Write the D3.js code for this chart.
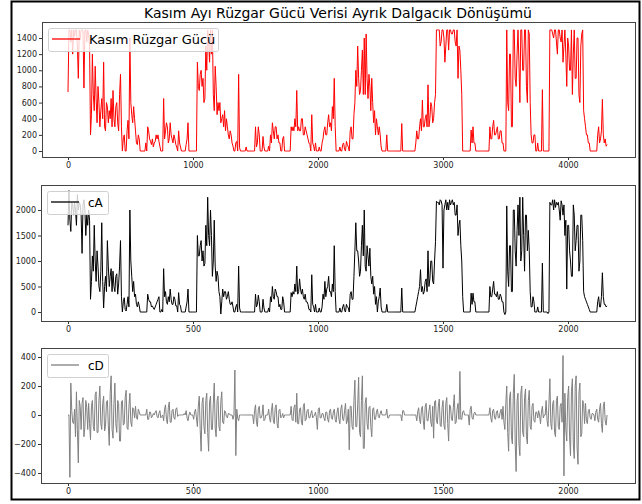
<!DOCTYPE html>
<html>
<head>
<meta charset="utf-8">
<script src="https://cdn.jsdelivr.net/npm/d3@7/dist/d3.min.js"></script>
<style>
body { margin: 0; background: #fff; }
svg text { font-family: "DejaVu Sans", sans-serif; }
</style>
</head>
<body>
<svg id="chart" width="642" height="504"></svg>
<script>
// values (signal: 4320 samples, coefficients: 2160 samples)
const titleText = "Kasım Ayı Rüzgar Gücü Verisi Ayrık Dalgacık Dönüşümü";
const seriesNames = ["Kasım Rüzgar Gücü", "cA", "cD"];

const powerTicksY = [0, 200, 400, 600, 800, 1000, 1200, 1400];
const powerTicksX = [0, 1000, 2000, 3000, 4000];
const cATicksY = [0, 500, 1000, 1500, 2000];
const cDTicksY = [-400, -200, 0, 200, 400];
const coefTicksX = [0, 500, 1000, 1500, 2000];

const powerSpan = 4320;
const coefSpan = 2160;

const windPower = [
  730, 1500, 1500, 1350, 1500, 1200, 1500, 1420, 1500, 1500, 1300, 900, 1500, 1380, 1500, 1500, 1480, 780, 1500, 1500, 1350, 1500, 1450, 1300,
  200, 450, 1200, 700, 500, 1050, 650, 350, 800, 600, 300, 500, 650, 400, 1100, 300, 250, 600, 550, 350, 500, 400, 650, 300,
  750, 400, 300, 550, 600, 350, 250, 700, 950, 300, 0, 150, 200, 0, 0, 250, 380, 150, 1400, 600, 450, 350, 550, 400,
  250, 100, 80, 200, 150, 0, 0, 0, 0, 0, 0, 100, 0, 300, 250, 150, 120, 80, 150, 50, 100, 120, 200, 150,
  200, 120, 60, 0, 0, 0, 650, 150, 250, 350, 300, 100, 150, 350, 200, 150, 100, 200, 150, 80, 50, 0, 250, 100,
  50, 0, 0, 0, 0, 0, 80, 150, 350, 0, 0, 0, 0, 0, 0, 0, 0, 0, 1100, 800, 750, 950, 1000, 800,
  900, 600, 650, 1300, 1000, 1500, 1350, 1100, 1500, 1200, 1500, 700, 500, 1050, 800, 450, 600, 500, 600, 350, 400, 450, 300, 500,
  250, 400, 300, 200, 150, 250, 200, 100, 60, 0, 0, 100, 120, 0, 950, 40, 0, 0, 0, 0, 0, 0, 50, 0,
  0, 0, 0, 0, 0, 0, 0, 0, 300, 50, 100, 300, 200, 0, 0, 0, 180, 50, 0, 0, 0, 0, 60, 0,
  200, 100, 350, 250, 150, 300, 300, 150, 200, 100, 100, 0, 0, 150, 180, 0, 0, 0, 0, 0, 0, 0, 300, 250,
  300, 250, 400, 300, 750, 250, 300, 250, 250, 400, 400, 200, 200, 300, 250, 200, 150, 100, 80, 0, 450, 100, 60, 0,
  100, 0, 0, 0, 50, 0, 0, 100, 150, 250, 300, 200, 200, 350, 450, 300, 350, 250, 550, 400, 900, 300, 0, 0,
  0, 0, 50, 0, 0, 80, 100, 20, 0, 120, 80, 50, 0, 250, 300, 150, 150, 450, 600, 1000, 800, 1300, 900, 700,
  750, 1000, 1250, 700, 1400, 700, 1450, 900, 650, 950, 800, 500, 900, 600, 350, 500, 200, 400, 300, 200, 300, 200, 50, 0,
  0, 0, 0, 0, 200, 0, 0, 0, 0, 0, 0, 0, 0, 0, 0, 0, 0, 0, 0, 0, 340, 0, 0, 0,
  0, 0, 0, 0, 0, 0, 0, 0, 0, 0, 0, 100, 250, 150, 150, 300, 400, 250, 630, 300, 300, 400, 450, 300,
  820, 300, 400, 600, 550, 350, 400, 600, 700, 1500, 1500, 1500, 1500, 1300, 1350, 1500, 1500, 1400, 1100, 1300, 1500, 1500, 1250, 1500,
  1500, 1450, 1450, 1500, 1500, 1350, 1300, 1500, 900, 1300, 1250, 1000, 700, 0, 0, 0, 0, 0, 0, 0, 0, 0, 260, 100,
  300, 100, 100, 0, 0, 0, 0, 0, 0, 0, 0, 0, 0, 0, 0, 0, 0, 0, 300, 150, 150, 300, 380, 200,
  200, 250, 300, 150, 150, 250, 250, 100, 100, 0, 0, 0, 1500, 600, 500, 1200, 1200, 300, 300, 1500, 1500, 900, 800, 1200,
  1500, 1100, 600, 1500, 1500, 1000, 1000, 1500, 1500, 800, 600, 1500, 1450, 600, 200, 100, 100, 200, 200, 0, 0, 100, 0, 0,
  0, 0, 760, 0, 0, 0, 0, 0, 0, 0, 1500, 1500, 1500, 1450, 1400, 1500, 1500, 1350, 1200, 1500, 1500, 1400, 1350, 1500,
  1100, 1300, 1500, 1200, 800, 1400, 1300, 1000, 1000, 1500, 700, 1200, 1500, 900, 900, 1400, 1400, 700, 600, 1300, 1450, 1500, 500, 400,
  300, 200, 200, 100, 100, 0, 0, 0, 0, 0, 0, 0, 0, 200, 300, 100, 150, 250, 640, 200, 100, 150, 60, 80
];

const cA = [
  1700, 2380, 1800, 1580, 2150, 2100, 1900, 2150, 2000, 1700, 2300, 2000, 2150, 2100, 1900, 1150, 2100, 2200, 2000, 1500, 1900, 1700, 2000, 1800,
  250, 600, 1100, 800, 1700, 1000, 600, 1200, 900, 500, 400, 800, 1750, 600, 80, 500, 700, 400, 1400, 900, 500, 700, 850, 400,
  800, 500, 400, 700, 750, 350, 550, 900, 1400, 300, 0, 200, 280, 50, 20, 150, 300, 100, 2000, 1000, 700, 400, 600, 300,
  350, 150, 100, 200, 120, 0, 0, 0, 0, 0, 0, 0, 0, 350, 250, 200, 200, 100, 120, 80, 50, 100, 150, 200,
  250, 300, 0, 0, 50, 0, 850, 300, 400, 200, 150, 300, 200, 450, 250, 150, 150, 300, 250, 120, 120, 0, 380, 150,
  120, 0, 0, 0, 0, 0, 100, 200, 450, 0, 0, 0, 0, 0, 0, 0, 0, 0, 1500, 1100, 1100, 1300, 1400, 1000,
  1200, 900, 950, 1700, 1300, 2250, 1500, 1300, 2000, 1500, 700, 1000, 1800, 900, 600, 800, 700, 400, 300, -40, 200, 450, 300, 400,
  400, 250, 300, 400, 250, 150, 150, 200, 100, 0, 0, 100, 150, 0, 900, 80, 0, 0, 0, 0, 0, 0, 0, 0,
  0, 0, 0, 0, 0, 0, 0, 0, 350, 100, 150, 330, 200, 0, 0, 0, 250, 80, 0, 0, 0, 0, 80, 0,
  300, 200, 500, 300, 250, 450, 400, 300, 300, 100, 150, 50, 50, 300, 200, 0, 0, 0, 0, 0, 0, 0, 380, 300,
  400, 350, 550, 400, 900, 350, 400, 650, 450, 350, 450, 300, 250, 350, 200, 200, 150, 50, 50, 0, 730, 150, 100, 0,
  150, 0, 0, 0, 80, 0, 0, 100, 350, 250, 600, 300, 450, 500, 700, 400, 400, 300, 550, 400, 1300, 400, 0, 0,
  0, 0, 80, 0, 0, 100, 150, 30, 0, 150, 100, 80, 0, 350, 400, 250, 250, 700, 1200, 1750, 1200, 1200, 1000, 700,
  800, 1300, 1700, 1100, 2000, 900, 800, 1300, 1100, 900, 1250, 700, 550, 700, 350, 500, 150, 300, 0, 200, 300, 470, 100, 0,
  0, 0, 0, 0, 150, 0, 0, 0, 0, 0, 0, 0, 0, 0, 0, 0, 0, 0, 0, 0, 470, 0, 0, 0,
  0, 0, 0, 0, 0, 0, 0, 0, 0, 0, 0, 100, 200, 300, 400, 500, 830, 400, 500, 350, 400, 600, 650, 400,
  1200, 500, 650, 1000, 1000, 600, 550, 1000, 1380, 2170, 2150, 2150, 2100, 2200, 2180, 2100, 860, 2000, 2100, 2200, 2000, 2150, 2000, 2200,
  2100, 2150, 2200, 2100, 2150, 1900, 1900, 2100, 1500, 1700, 1800, 1300, 1000, 300, 0, 0, 0, 0, 0, 0, 0, 0, 370, 150,
  370, 200, 200, 0, 0, 0, 0, 0, 0, 0, 0, 0, 0, 0, 0, 0, 0, 0, 500, 300, 300, 450, 600, 350,
  350, 300, 400, 250, 250, 350, 300, 200, 200, 0, -50, 0, 2080, 800, 500, 1300, 1300, 400, 400, 2000, 2000, 1200, 900, 1600,
  2100, 1500, 2250, 1000, 1200, 2250, 1500, 800, 1900, 1900, 1200, 1600, 1200, 400, 100, 100, 300, 200, 0, 0, 0, 100, 0, 0,
  0, 0, 960, 0, 0, 0, 0, 0, -30, 0, 2150, 2100, 2100, 2200, 2000, 2200, 2050, 2150, 2100, 2150, 2000, 1800, 2180, 2100,
  1900, 2100, 1500, 1800, 450, 1700, 1700, 1200, 1000, 700, 700, 2100, 1900, 1200, 1400, 1700, 1700, 800, 1000, 1900, 1900, 1400, 400, 300,
  250, 200, 150, 100, 50, 0, 0, 0, 0, 0, 0, 0, 0, 200, 300, 100, 100, 300, 770, 300, 150, 150, 100, 120
];

const cD = [
  0, 0, -430, 220, 30, -50, -60, 40, -150, 160, -100, -330, 100, 60, -100, 80, 120, -150, -80, 100, 50, -100, 80, -60,
  -170, 60, 100, -80, -110, 140, 160, -120, -120, 100, 200, -60, -100, 80, 130, -110, -80, 90, 100, -70, -210, 150, 270, -100,
  -160, 80, 220, -60, -120, 100, 80, -180, -180, 90, 100, -70, -60, 120, 170, -90, -100, 60, 150, -50, -80, 50, 40, -20,
  60, -20, -30, 40, 20, 0, 0, 0, 0, 0, 0, 0, 40, -30, -30, 20, 20, -20, -10, 10, 0, 20, 30, -10,
  -20, 10, 30, -20, -10, 0, -40, 40, 70, -30, -60, 50, 90, -50, -50, 30, 40, -20, -30, 40, 50, -10, 0, 0,
  0, 0, 0, 0, 10, 0, 30, -20, -40, 0, 20, 0, 0, 0, -30, 20, 40, -20, -80, 60, 130, -100, -250, 80,
  120, -80, -130, 100, 150, -120, -250, 90, 130, -100, -100, 80, 220, -90, -150, 100, 130, -80, -110, 90, 160, -50, -60, 30,
  20, -10, -20, 10, 10, 0, 0, 0, -30, 0, 310, -280, 40, -20, -40, 0, 0, 0, 0, 0, 0, 0, 0, 0,
  0, 0, 0, 0, 0, 0, -60, 30, 70, -50, -80, 40, 60, -20, -20, 0, 70, -40, -30, 0, 0, 0, 40, -20,
  -50, 30, 80, -40, -60, 50, 70, -60, -90, 30, 40, -20, -10, 10, -20, 0, 0, 0, 0, 0, 0, 0, 60, -30,
  -40, 50, 70, -50, 150, -60, -60, 40, 50, -50, -70, 60, 80, -40, -30, 30, 40, -20, -20, 10, 30, -20, -10, 0,
  20, -20, -100, 40, 50, -20, -20, 10, 10, -20, -40, 20, 20, -30, -50, 30, 40, -20, -30, 20, 40, -30, -50, 20,
  50, -30, -60, 40, 70, -30, -40, 30, 80, -60, -40, 40, -240, 60, 60, -80, -100, 100, 240, -80, -80, 70, 260, -120,
  -150, 100, 270, -230, -230, 80, 120, -60, -100, 50, 60, -80, -150, 40, 50, -30, -30, 20, 40, -10, -20, 10, 30, 0,
  0, 0, 0, 0, 40, -20, -20, 0, 0, 0, 0, 0, 0, 0, 0, 0, 0, 0, 0, 0, -40, 30, 30, 0,
  0, 0, 0, 0, 0, 0, 0, 0, 0, 0, 0, 0, -40, 20, 50, -30, -60, 40, 60, -40, -100, 60, 80, -40,
  -40, 30, 70, -50, -80, 60, -160, 90, 100, -40, -60, 60, 110, -70, -80, 50, 100, -70, -100, 80, 120, -60, -180, 70,
  60, -30, -40, 50, 140, -60, -50, 40, 80, -30, 300, -30, -30, 20, 30, 0, 0, 0, 0, 0, -70, 40, 60, -20,
  -30, 10, 20, 0, 0, 0, 0, 0, 0, 0, 0, 0, 0, 0, 0, 0, 0, 0, 50, -20, -50, 30, 40, -20,
  -30, 20, 30, -20, -20, 20, 40, -30, 60, -50, -100, 80, 200, -120, -250, 120, 160, -150, -200, 150, 280, -200, -390, 100,
  150, -200, -280, 150, 200, -120, -150, 120, 180, -150, -200, 100, 170, -80, -100, 60, 80, -40, -50, 20, 20, -20, 30, 0,
  -60, 20, 60, -20, 0, 0, 100, -40, -80, 80, 250, -60, -100, 80, 100, -120, -150, 100, 130, -80, -100, 60, 80, -50,
  410, -420, 150, -100, -180, 120, 200, -150, -280, 160, 250, -200, -300, 200, 270, -220, -340, 150, 220, -150, -130, 100, 80, -60,
  80, -40, -60, 30, 40, -20, -30, 10, 10, 0, -40, 20, 40, -30, -50, 40, 80, -60, -120, 60, 90, -40, -70, 0
];

const svg = d3.select("#chart");

// figure frame
svg.append("rect")
  .attr("x", 11.5).attr("y", 1.5)
  .attr("width", 628).attr("height", 498)
  .attr("fill", "none").attr("stroke", "#000").attr("stroke-width", 2);

svg.append("text")
  .attr("x", 338).attr("y", 18)
  .attr("text-anchor", "middle")
  .style("font-size", "14px")
  .attr("fill", "#000")
  .text(titleText);

const panels = [
  {name: seriesNames[0], values: windPower, span: powerSpan, color: "#ff0000",
   box: {x: 42, y: 22, w: 593, h: 135}, xDomain: [-208, 4536], yDomain: [-74, 1598],
   xTicks: powerTicksX, yTicks: powerTicksY, legendW: 170, legendFont: 13},
  {name: seriesNames[1], values: cA, span: coefSpan, color: "#000000",
   box: {x: 41, y: 185, w: 594, h: 136}, xDomain: [-108, 2268], yDomain: [-176, 2490],
   xTicks: coefTicksX, yTicks: cATicksY, legendW: 61, legendFont: 12},
  {name: seriesNames[2], values: cD, span: coefSpan, color: "#808080",
   box: {x: 41, y: 348, w: 594, h: 135}, xDomain: [-108, 2268], yDomain: [-469, 462],
   xTicks: coefTicksX, yTicks: cDTicksY, legendW: 61, legendFont: 12}
];

panels.forEach(function(p, i) {
  const b = p.box;
  const step = p.span / p.values.length;
  const x = d3.scaleLinear().domain(p.xDomain).range([b.x, b.x + b.w]);
  const y = d3.scaleLinear().domain(p.yDomain).range([b.y + b.h, b.y]);

  svg.append("clipPath").attr("id", "clip" + i)
    .append("rect").attr("x", b.x).attr("y", b.y).attr("width", b.w).attr("height", b.h);

  const line = d3.line()
    .x((d, j) => x(j * step))
    .y(d => y(d));

  svg.append("path")
    .datum(p.values)
    .attr("clip-path", "url(#clip" + i + ")")
    .attr("fill", "none")
    .attr("stroke", p.color)
    .attr("stroke-width", 1)
    .attr("d", line);

  const fmt = v => v < 0 ? "\u2212" + Math.abs(v) : String(v);

  const gx = svg.append("g")
    .attr("transform", `translate(0,${b.y + b.h})`)
    .call(d3.axisBottom(x).tickValues(p.xTicks).tickFormat(fmt).tickSize(3).tickPadding(2));
  const gy = svg.append("g")
    .attr("transform", `translate(${b.x},0)`)
    .call(d3.axisLeft(y).tickValues(p.yTicks).tickFormat(fmt).tickSize(3).tickPadding(2));

  [gx, gy].forEach(function(g) {
    g.select(".domain").remove();
    g.selectAll("line").attr("stroke", "#333");
    g.selectAll("text").attr("fill", "#222").style("font-size", "8px")
      .style("font-family", "'DejaVu Sans', sans-serif");
  });

  // spines
  svg.append("rect")
    .attr("x", b.x + 0.5).attr("y", b.y + 0.5)
    .attr("width", b.w).attr("height", b.h)
    .attr("fill", "none").attr("stroke", "#444").attr("stroke-width", 1);

  // legend
  const lx = b.x + 6, ly = b.y + 6;
  svg.append("rect")
    .attr("x", lx + 0.5).attr("y", ly + 0.5)
    .attr("width", p.legendW).attr("height", 23).attr("rx", 2)
    .attr("fill", "rgba(255,255,255,0.8)").attr("stroke", "#d0d0d0");
  svg.append("line")
    .attr("x1", lx + 4).attr("x2", lx + 32)
    .attr("y1", ly + 11).attr("y2", ly + 11)
    .attr("stroke", p.color).attr("stroke-width", 1.3);
  svg.append("text")
    .attr("x", lx + 41).attr("y", ly + 16)
    .style("font-size", p.legendFont + "px")
    .attr("fill", "#000")
    .text(p.name);
});
</script>
</body>
</html>
